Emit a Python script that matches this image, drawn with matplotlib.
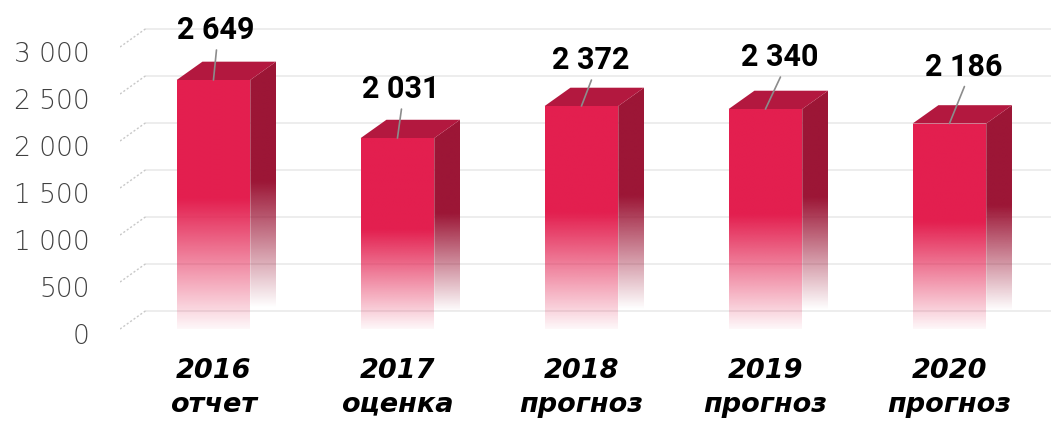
import numpy as np
import matplotlib
matplotlib.use("Agg")
import matplotlib.pyplot as plt
import matplotlib.transforms as mtransforms
from matplotlib.patches import Polygon
from matplotlib.colors import to_rgb

#-------------
#  Data
#-------------
years = ["2016", "2017", "2018", "2019", "2020"]
kinds = ["отчет", "оценка", "прогноз", "прогноз", "прогноз"]
values = [2649, 2031, 2372, 2340, 2186]
yticks = [0, 500, 1000, 1500, 2000, 2500, 3000]

# leader line offsets for the value labels (pixels, dx / dy)
leader_dx = [3, 4, 10, 15, 15]
leader_dy = [30, 29, 26, 32, 37]

#-------------
#  Style
#-------------
FRONT = "#e31f4f"
TOP = "#b3183f"
SIDE = "#9c1636"
GRID = "#e8e8e8"
BAR_W = 0.40
DX = 0.14     # depth in x units
DY = 195      # depth in value units


def fmt(v):
    return f"{v:,}".replace(",", " ")


def fade_image(color, n, start, stop):
    # vertical alpha ramp: transparent at `stop` fraction, opaque from `start`
    f = np.linspace(0, 1, n)
    a = np.clip((f - stop) / (start - stop), 0, 1)
    img = np.zeros((n, 2, 4))
    img[:, :, :3] = to_rgb(color)
    img[:, :, 3] = a[:, None]
    return img


fig = plt.figure(figsize=(10.51, 4.28), dpi=100)
ax = fig.add_axes([120 / 1051, 83 / 428, 931 / 1051, 345 / 428])

x = np.arange(len(values))

# back wall grid + little dotted connectors at the left
for t in yticks:
    ax.plot([-0.508 + DX, 4.6], [t + DY, t + DY], color=GRID, lw=1.1, zorder=1)
    ax.plot([-0.508, -0.508 + DX], [t, t + DY], color="#c8c8c8", lw=1,
            ls=(0, (1.5, 1.5)), zorder=1)

for i, v in enumerate(values):
    x0, x1 = i - BAR_W / 2, i + BAR_W / 2

    # side face
    side = Polygon([(x1, 0), (x1, v), (x1 + DX, v + DY), (x1 + DX, DY)],
                   closed=True, facecolor="none", edgecolor="none")
    ax.add_patch(side)
    im = ax.imshow(fade_image(SIDE, 200, 0.55, 0.08), origin="lower",
                   extent=[x1, x1 + DX, 0, v + DY], aspect="auto",
                   interpolation="bilinear", zorder=3)
    im.set_clip_path(side)

    # top face
    ax.add_patch(Polygon([(x0, v), (x1, v), (x1 + DX, v + DY), (x0 + DX, v + DY)],
                         closed=True, facecolor=TOP, edgecolor="none", zorder=3))

    # front face
    front = Polygon([(x0, 0), (x1, 0), (x1, v), (x0, v)], closed=True,
                    facecolor="none", edgecolor="none")
    ax.add_patch(front)
    im = ax.imshow(fade_image(FRONT, 200, 0.52, -0.02), origin="lower",
                   extent=[x0, x1, 0, v], aspect="auto",
                   interpolation="bilinear", zorder=4)
    im.set_clip_path(front)

    # value label with leader line
    ax.annotate("", xy=(i, v), xytext=(leader_dx[i], leader_dy[i]),
                textcoords="offset pixels",
                arrowprops=dict(arrowstyle="-", color="#8c8c8c", lw=1.2,
                                shrinkA=0, shrinkB=0), zorder=5)
    ax.annotate(fmt(v), xy=(i, v), xytext=(leader_dx[i] - 1, leader_dy[i] + 11),
                textcoords="offset pixels", ha="center", va="baseline",
                fontsize=22, fontweight="bold", family=["Roboto", "DejaVu Sans"],
                color="black", zorder=6)

ax.set_xlim(-0.508, 4.552)
ax.set_ylim(-170, 3500)

ax.set_yticks(yticks)
ax.set_yticklabels([fmt(t) for t in yticks], fontsize=19,
                   family=["DejaVu Sans"], fontweight="light",
                   color="#404040")
ax.set_xticks(x)
ax.set_xticklabels([f"{y}\n{k}" for y, k in zip(years, kinds)], fontsize=19.5,
                   fontweight="bold", fontstyle="italic",
                   family=["DejaVu Sans"], linespacing=1.4)
ax.tick_params(axis="y", length=0, pad=22)
ax.tick_params(axis="x", length=0, pad=9)

# tick labels sit a little lower than the front scale
shift = mtransforms.ScaledTranslation(0, -5 / 100, fig.dpi_scale_trans)
for lbl in ax.get_yticklabels():
    lbl.set_transform(lbl.get_transform() + shift)

for s in ax.spines.values():
    s.set_visible(False)
ax.patch.set_alpha(0)

fig.savefig("out.png", dpi=100)
